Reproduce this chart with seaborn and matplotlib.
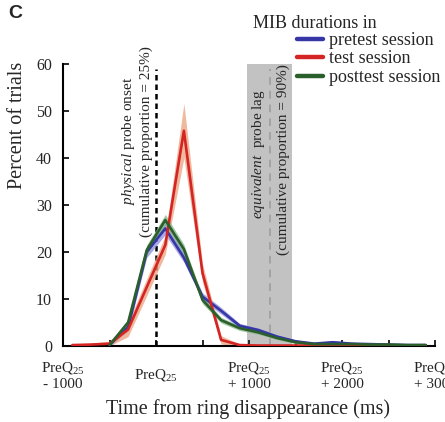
import numpy as np
import pandas as pd
import matplotlib
matplotlib.use("Agg")
import matplotlib.pyplot as plt
import seaborn as sns

# ---- data ----
time_ms = [-900, -700, -500, -300, -100, 100, 300, 500, 700, 900,
           1100, 1300, 1500, 1700, 1900, 2100, 2300, 2500, 2700, 2900]
pretest = [np.nan, np.nan, 0.2, 4.0, 20.0, 25.0, 18.8, 10.5, 7.5, 4.3,
           3.4, 2.0, 1.0, 0.5, 0.8, 0.5, 0.4, 0.3, 0.2, 0.2]
pretest_err = [0, 0, 0.3, 0.8, 1.2, 1.3, 1.0, 0.8, 0.7, 0.5,
               0.4, 0.4, 0.3, 0.3, 0.3, 0.3, 0.2, 0.2, 0.2, 0.2]
test = [0.2, 0.3, 0.5, 3.5, 12.5, 21.5, 45.8, 15.5, 1.3, 0.2,
        0.1, 0.1, 0.1, 0.1, 0.1, 0.1, 0.1, 0.1, 0.1, 0.1]
test_err = [0.2, 0.3, 0.5, 1.5, 1.8, 2.0, 5.8, 2.0, 0.9, 0.2,
            0.1, 0.1, 0.1, 0.1, 0.1, 0.1, 0.1, 0.1, 0.1, 0.1]
posttest = [np.nan, np.nan, 0.2, 5.0, 20.4, 26.8, 20.6, 9.8, 5.5, 3.8,
            2.9, 1.7, 0.8, 0.4, 0.4, 0.4, 0.3, 0.3, 0.2, 0.2]
posttest_err = [0, 0, 0.3, 0.8, 1.1, 1.2, 1.0, 0.8, 0.6, 0.5,
                0.4, 0.3, 0.3, 0.2, 0.2, 0.2, 0.2, 0.2, 0.2, 0.2]

sessions = ["pretest session", "test session", "posttest session"]
line_colors = ["#3636a6", "#d42424", "#2a5e2a"]
band_colors = ["#8c8ce0", "#eba27e", "#86b486"]

xtick_pos = [-1000, 0, 1000, 2000, 3000]
xtick_labels = ["PreQ$_{25}$\n- 1000", "PreQ$_{25}$", "PreQ$_{25}$\n+ 1000",
                "PreQ$_{25}$\n+ 2000", "PreQ$_{25}$\n+ 3000"]
minor_pos = [-500, 500, 1500, 2500]
ytick_pos = [0, 10, 20, 30, 40, 50, 60]

physical_onset = 0
lag_span = (980, 1460)
lag_line = 1225

# ---- style ----
sns.set_style("ticks")
plt.rcParams["font.family"] = ["Liberation Serif", "DejaVu Serif"]
plt.rcParams["mathtext.fontset"] = "custom"
plt.rcParams["mathtext.rm"] = "Liberation Serif"
plt.rcParams["mathtext.it"] = "Liberation Serif:italic"
plt.rcParams["mathtext.bf"] = "Liberation Serif:bold"

fig = plt.figure(figsize=(4.45, 4.22), dpi=100)
ax = fig.add_axes([63 / 445, 1 - 346 / 422, (435 - 63) / 445, (346 - 64) / 422])

# shaded lag region & reference lines
ax.axvspan(lag_span[0], lag_span[1], ymin=0, ymax=1.0, color="#c2c2c2", zorder=0, lw=0)
ax.plot([lag_line, lag_line], [0, 59], color="#9a9a9a", lw=1.1,
        linestyle=(0, (5, 4)), zorder=1)
ax.plot([physical_onset, physical_onset], [0, 59], color="black", lw=1.8,
        linestyle=(0, (2.2, 1.6)), zorder=1)

# bands
series = [pretest, test, posttest]
errs = [pretest_err, test_err, posttest_err]
t = np.array(time_ms, dtype=float)
for vals, e, bc in zip(series, errs, band_colors):
    v = np.array(vals, dtype=float)
    ee = np.array(e, dtype=float)
    m = ~np.isnan(v)
    ax.fill_between(t[m], (v - ee)[m], (v + ee)[m], color=bc, alpha=0.75, lw=0, zorder=2)

# lines via seaborn
df = pd.DataFrame({"time": time_ms, sessions[0]: pretest,
                   sessions[1]: test, sessions[2]: posttest})
long = df.melt(id_vars="time", var_name="session", value_name="pct").dropna()
sns.lineplot(data=long, x="time", y="pct", hue="session", hue_order=sessions,
             palette=line_colors, lw=1.9, errorbar=None, ax=ax, legend=False,
             zorder=3)

ax.set_xlim(-1000, 3000)
ax.set_ylim(0, 60)
ax.set_xticks(xtick_pos)
ax.set_xticks(minor_pos, minor=True)
ax.set_xticklabels(xtick_labels, fontsize=11)
for lab in ax.get_xticklabels():
    lab.set_va("center")
ax.set_yticks(ytick_pos)
ax.set_yticklabels([str(v) for v in ytick_pos], fontsize=11.5)
ax.tick_params(axis="x", which="both", direction="in", length=4, width=1.4, pad=21)
ax.tick_params(axis="y", direction="in", length=4, width=1.4, pad=8)
sns.despine(ax=ax)
for s in ["left", "bottom"]:
    ax.spines[s].set_linewidth(1.5)
    ax.spines[s].set_color("black")

ax.set_xlabel("Time from ring disappearance (ms)", fontsize=14.5)
ax.xaxis.set_label_coords(0.497, -0.19)
ax.set_ylabel("Percent of trials", fontsize=14.5)
ax.yaxis.set_label_coords(-0.097, 0.784)

# annotations
ax.text(-301, 43.6, "$\\mathit{physical}$ probe onset", rotation=90,
        ha="center", va="center", fontsize=11, zorder=4)
ax.text(-110, 43.6, "(cumulative proportion = 25%)", rotation=90,
        ha="center", va="center", fontsize=11, zorder=4)
ax.text(1097, 40.9, "$\\mathit{equivalent}$  probe lag", rotation=90,
        ha="center", va="center", fontsize=11, zorder=4)
ax.text(1366, 39.6, "(cumulative proportion = 90%)", rotation=90,
        ha="center", va="center", fontsize=11, zorder=4)

# legend
handles = [plt.Line2D([], [], color=c, lw=3.2) for c in line_colors]
fig.legend(handles, sessions, loc="upper left",
           bbox_to_anchor=(297 / 445, 1 - 32 / 422), bbox_transform=fig.transFigure,
           frameon=False, fontsize=13, handlelength=1.45, handletextpad=0.3,
           labelspacing=0.08, borderpad=0, borderaxespad=0)
fig.text(253 / 445, 1 - 23 / 422, "MIB durations in", fontsize=13, va="center", ha="left")

fig.text(8 / 445, 1 - 5 / 422, "C", fontsize=14, fontweight="bold",
         family="Liberation Sans", va="top", ha="left")

fig.savefig("out.png", dpi=100)
